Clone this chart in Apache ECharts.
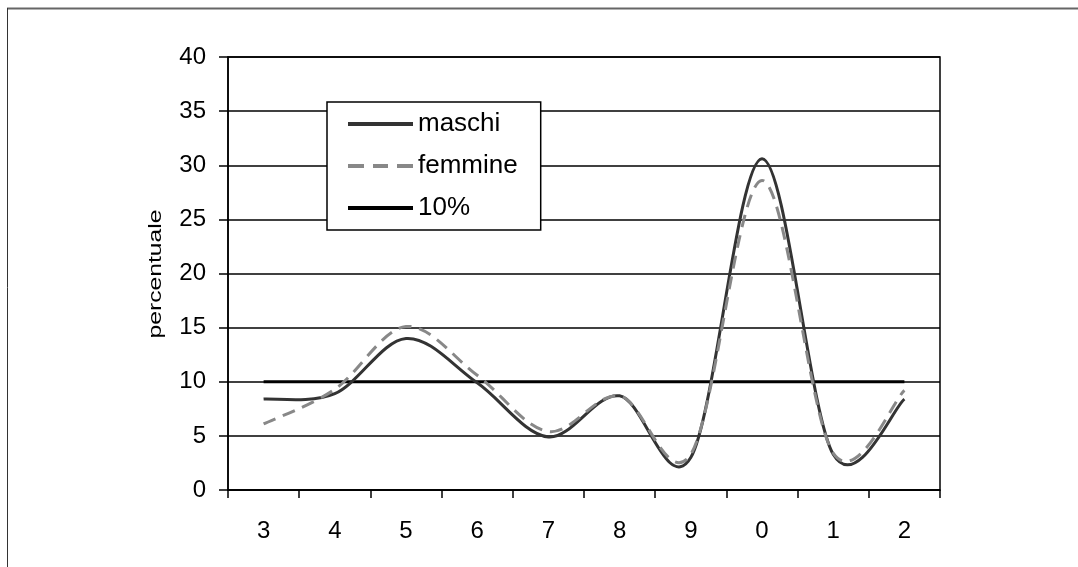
<!DOCTYPE html>
<html>
<head>
<meta charset="utf-8">
<script src="https://cdn.jsdelivr.net/npm/echarts@6/dist/echarts.min.js"></script>
<style>
  html, body { margin: 0; padding: 0; background: #fff; }
  #chart { width: 1078px; height: 567px; }
</style>
</head>
<body>
<div id="chart"></div>
<script>
// Final digit categories along the x axis
const categories = ['3', '4', '5', '6', '7', '8', '9', '0', '1', '2'];
// Percentages per final digit
const maschi = [8.4, 8.9, 14.0, 9.9, 4.9, 8.7, 3.0, 30.6, 3.3, 8.4];
const femmine = [6.1, 9.3, 15.1, 10.6, 5.4, 8.7, 3.3, 28.6, 3.4, 9.2];
// Reference level (10% each digit)
const soglia = [10, 10, 10, 10, 10, 10, 10, 10, 10, 10];
const yTicks = { min: 0, max: 40, interval: 5 };

const FONT = '"Liberation Sans", Arial, sans-serif';

// Smoothed curve through the data points (Catmull-Rom style Bezier segments),
// positioned with the chart's own coordinate system.
function smoothRenderer(values, style) {
  return function (params, api) {
    if (params.dataIndex !== 0) return { type: 'group', children: [] };
    const pts = values.map((v, i) => api.coord([i, v]));
    const n = pts.length;
    let d = 'M' + pts[0][0] + ',' + pts[0][1];
    for (let i = 0; i < n - 1; i++) {
      const p0 = pts[Math.max(i - 1, 0)];
      const p1 = pts[i];
      const p2 = pts[i + 1];
      const p3 = pts[Math.min(i + 2, n - 1)];
      const c1x = p1[0] + (p2[0] - p0[0]) / 6, c1y = p1[1] + (p2[1] - p0[1]) / 6;
      const c2x = p2[0] - (p3[0] - p1[0]) / 6, c2y = p2[1] - (p3[1] - p1[1]) / 6;
      d += ' C' + c1x + ',' + c1y + ' ' + c2x + ',' + c2y + ' ' + p2[0] + ',' + p2[1];
    }
    return {
      type: 'path',
      shape: { pathData: d },
      style: Object.assign({ fill: 'none', lineJoin: 'round' }, style)
    };
  };
}

const chart = echarts.init(document.getElementById('chart'), null, { renderer: 'canvas' });

chart.setOption({
  animation: false,
  backgroundColor: '#fff',
  grid: {
    left: 228, right: 138, top: 57, bottom: 77,
    show: true, borderColor: '#000', borderWidth: 1.5, backgroundColor: 'transparent'
  },
  legend: {
    orient: 'vertical',
    left: 327, top: 102,
    padding: [9, 23, 9, 21],
    itemWidth: 65, itemHeight: 4, itemGap: 16, itemTextGap: 8,
    backgroundColor: '#fff', borderColor: '#000', borderWidth: 1.5,
    textStyle: { fontFamily: FONT, fontSize: 26, lineHeight: 26, color: '#000' },
    data: [
      { name: 'maschi', icon: 'rect', itemStyle: { color: '#333' } },
      { name: 'femmine', icon: 'path://M0,0h16v4h-16zM25,0h15v4h-15zM49,0h16v4h-16z', itemStyle: { color: '#888' } },
      { name: '10%', icon: 'rect', itemStyle: { color: '#000' } }
    ]
  },
  xAxis: {
    type: 'category',
    data: categories,
    boundaryGap: true,
    axisLine: { lineStyle: { color: '#000', width: 1.5 } },
    axisTick: { show: true, length: 8, lineStyle: { color: '#000', width: 1.5 } },
    axisLabel: { fontFamily: FONT, fontSize: 24, color: '#000', margin: 29 },
    splitLine: { show: false }
  },
  yAxis: {
    type: 'value',
    min: yTicks.min, max: yTicks.max, interval: yTicks.interval,
    axisLine: { show: true, lineStyle: { color: '#000', width: 1.5 } },
    axisTick: { show: true, length: 9, lineStyle: { color: '#000', width: 1.5 } },
    axisLabel: { fontFamily: FONT, fontSize: 24, color: '#000', margin: 22 },
    splitLine: { show: true, lineStyle: { color: '#000', width: 1.5 } }
  },
  graphic: [
    // outer chart frame (top and left edges)
    { type: 'line', shape: { x1: 7, y1: 8.5, x2: 1078, y2: 8.5 }, style: { stroke: '#666', lineWidth: 2 }, z: 10 },
    { type: 'line', shape: { x1: 7.5, y1: 8, x2: 7.5, y2: 567 }, style: { stroke: '#333', lineWidth: 1 }, z: 10 },
    // y axis title
    {
      type: 'text', x: 156, y: 274, rotation: Math.PI / 2, scaleX: 1.3,
      style: { text: 'percentuale', fontFamily: FONT, fontSize: 19, fill: '#000', align: 'center', verticalAlign: 'middle' },
      z: 10
    }
  ],
  series: [
    {
      name: '10%', type: 'line', data: soglia, symbol: 'none',
      lineStyle: { color: '#000', width: 3 }, itemStyle: { color: '#000' }, z: 3
    },
    {
      name: 'maschi', type: 'custom',
      data: maschi.map((v, i) => [i, v]),
      encode: { x: 0, y: 1 },
      itemStyle: { color: '#333' },
      renderItem: smoothRenderer(maschi, { stroke: '#333', lineWidth: 3 }),
      z: 4
    },
    {
      name: 'femmine', type: 'custom',
      data: femmine.map((v, i) => [i, v]),
      encode: { x: 0, y: 1 },
      itemStyle: { color: '#888' },
      renderItem: smoothRenderer(femmine, { stroke: '#888', lineWidth: 3, lineDash: [13, 8] }),
      z: 5
    }
  ]
});
</script>
</body>
</html>
